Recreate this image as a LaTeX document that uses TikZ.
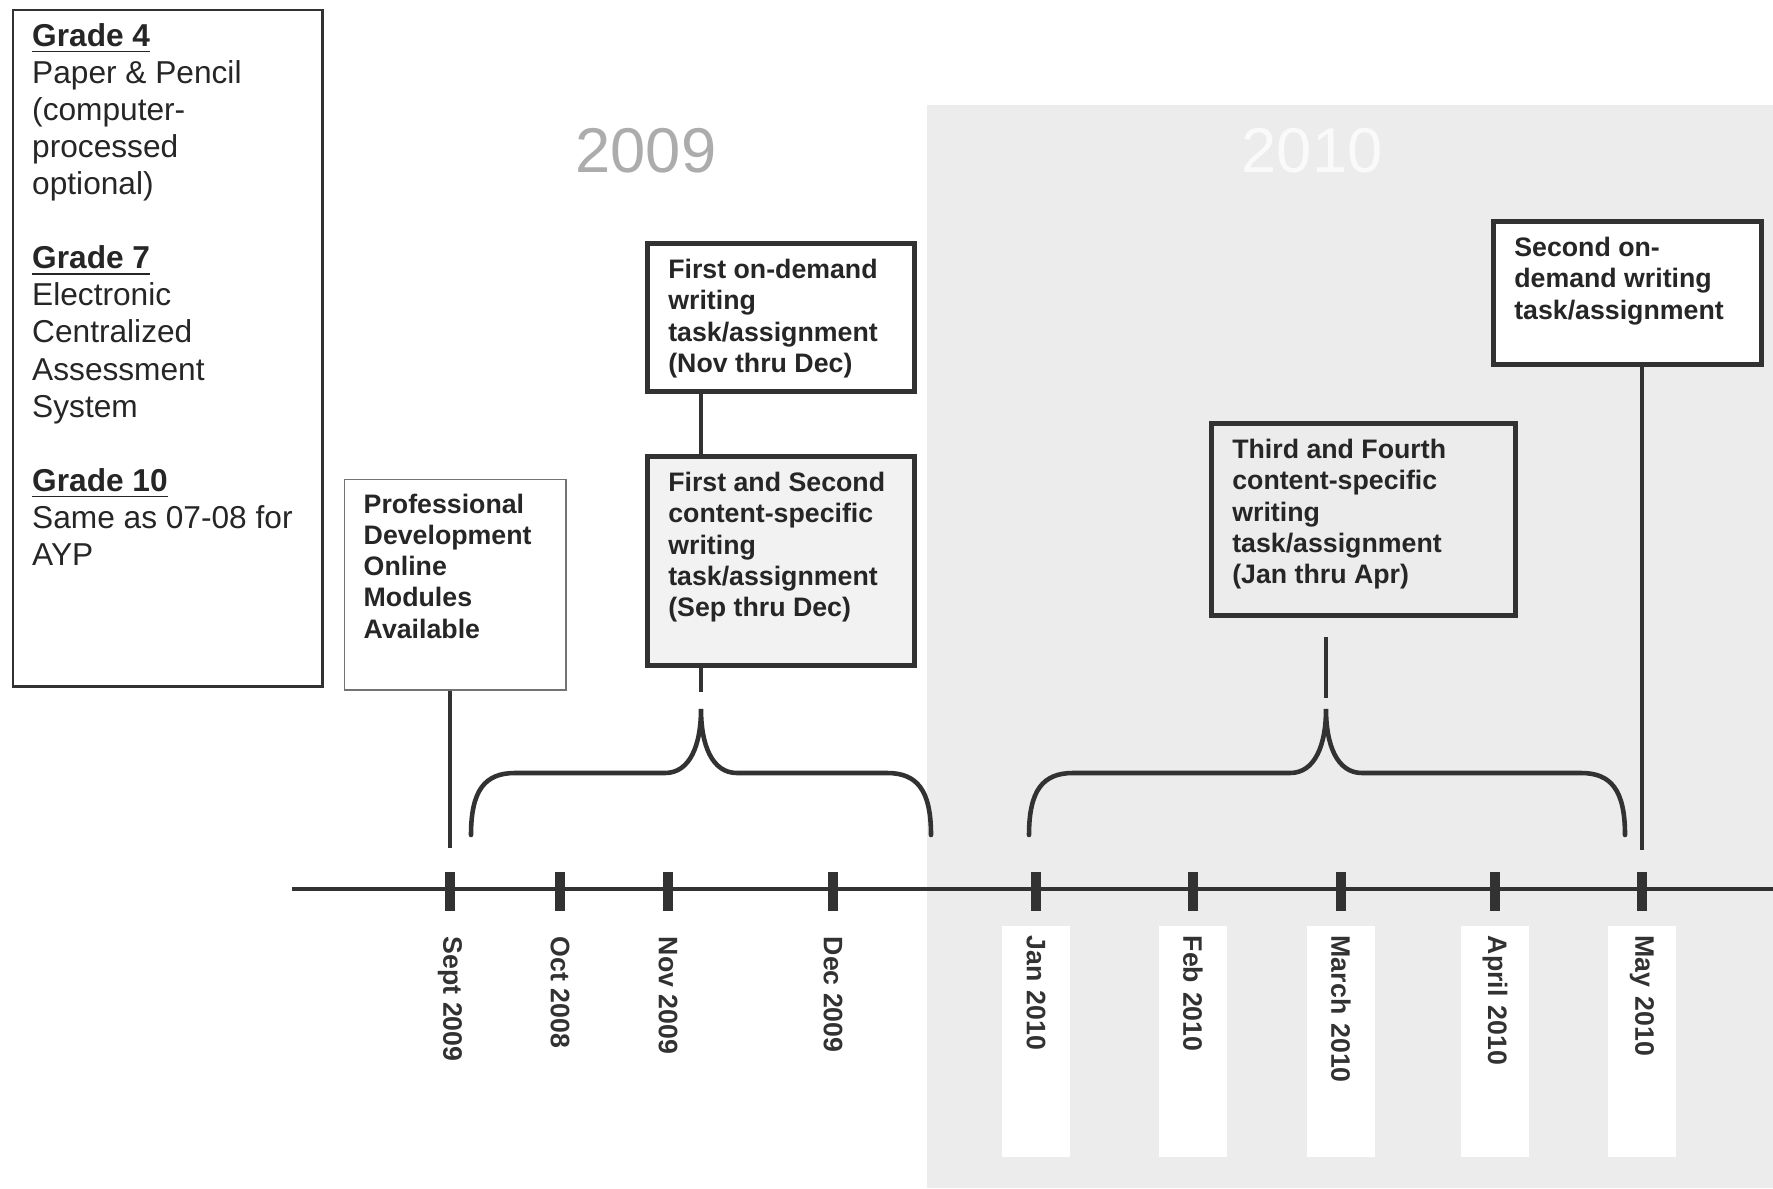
\documentclass[tikz,border=0pt]{standalone}
\usepackage{fontspec}
\setmainfont{Liberation Sans}
\usetikzlibrary{positioning}
\definecolor{inkgrey}{RGB}{50,50,50}
\definecolor{scangrey}{RGB}{236,236,236}
\definecolor{boxgrey}{RGB}{242,242,242}
\definecolor{yeargrey}{RGB}{172,172,172}
\definecolor{ghostwhite}{RGB}{250,250,250}
\newcommand{\boxtext}[3]{\parbox[c][#2][t]{#1}{\raggedright #3}}

\begin{document}
\begin{tikzpicture}[x=0.01cm,y=-0.01cm,
  taskbox/.style={draw=inkgrey,line width=1.3pt,fill=white,anchor=north west,
    inner xsep=0.21cm,inner ysep=0.16cm,text=black!85,
    font=\fontsize{7.6}{8.9}\selectfont\bfseries},
  pdbox/.style={taskbox,draw=black!55,line width=0.4pt,inner xsep=0.19cm,inner ysep=0.14cm},
  gradebox/.style={draw=inkgrey,line width=0.7pt,fill=white,anchor=north west,
    inner xsep=0.19cm,inner ysep=0.13cm,text=black!85,
    font=\fontsize{9}{10.55}\selectfont},
  link/.style={draw=inkgrey,line width=1pt},
  bracket/.style={draw=inkgrey,line width=1.3pt,line cap=round},
  timeline/.style={draw=inkgrey,line width=1pt},
  monthtick/.style={draw=inkgrey,line width=2.6pt},
  monthlabel/.style={rotate=-90,anchor=west,inner sep=0pt,text=inkgrey,
    font=\fontsize{7.6}{9}\selectfont\bfseries},
  newmonthlabel/.style={monthlabel,fill=white,anchor=west,inner xsep=0.1cm,
    text width=2.11cm,align=left,minimum height=0.68cm},
  yearlabel/.style={font=\fontsize{18}{20}\selectfont,inner sep=0pt}]

  \useasboundingbox (0,0) rectangle (1773,1188);
  \fill[white] (0,0) rectangle (1773,1188);
  % scanned 2010 half
  \fill[scangrey] (927,105) rectangle (1773,1188);

  \node[yearlabel,text=yeargrey] (y2009) at (646,151) {2009};
  \node[yearlabel,text=ghostwhite] (y2010) at (1312,151) {2010};

  % time axis
  \coordinate (tl-start) at (292,889);
  \coordinate (tl-end) at (1773,889);
  \draw[timeline] (tl-start) -- (tl-end);

  \foreach \x/\m/\lab in {450/sep/Sept 2009,560/oct/Oct 2008,668/nov/Nov 2009,833/dec/Dec 2009}
  {
    \coordinate (\m) at (\x,889);
    \draw[monthtick] (\x,872) -- (\x,911);
    \node[monthlabel] (\m-lab) at (\x,936) {\lab};
  }
  \foreach \x/\m/\lab in {1036/jan/Jan 2010,1193/feb/Feb 2010,1341/mar/March 2010,1495/apr/April 2010,1642/may/May 2010}
  {
    \coordinate (\m) at (\x,889);
    \draw[monthtick] (\x,872) -- (\x,911);
    \node[newmonthlabel] (\m-lab) at (\x,925) {\lab};
  }

  % boxes
  \node[gradebox] (grades) at (12,9) {\boxtext{2.71cm}{6.5cm}{%
    {\bfseries\underline{Grade 4}}\\
    Paper \& Pencil\\
    (computer-\\
    processed\\
    optional)\\[10.55pt]
    {\bfseries\underline{Grade 7}}\\
    Electronic\\
    Centralized\\
    Assessment\\
    System\\[10.55pt]
    {\bfseries\underline{Grade 10}}\\
    Same as 07-08 for\\
    AYP}};

  \node[pdbox] (pd) at (344,479) {\boxtext{1.83cm}{1.82cm}{%
    Professional\\ Development\\ Online\\ Modules\\ Available}};

  \node[taskbox] (ondemand1) at (645,241) {\boxtext{2.25cm}{1.16cm}{%
    First on-demand\\ writing\\ task/assignment\\ (Nov thru Dec)}};

  \node[taskbox,fill=boxgrey] (content12) at (645,454) {\boxtext{2.25cm}{1.77cm}{%
    First and Second\\ content-specific\\ writing\\ task/assignment\\ (Sep thru Dec)}};

  \node[taskbox,fill=none] (content34) at (1209,421) {\boxtext{2.62cm}{1.60cm}{%
    Third and Fourth\\ content-specific\\ writing\\ task/assignment\\ (Jan thru Apr)}};

  \node[taskbox] (ondemand2) at (1491,219) {\boxtext{2.26cm}{1.11cm}{%
    Second on-\\ demand writing\\ task/assignment}};

  % connectors
  \coordinate (tip1) at (701,709);
  \coordinate (stub1) at (701,692);
  \coordinate (tip2) at (1326,709);
  \coordinate (stub2top) at (1326,637);
  \coordinate (stub2) at (1326,698);
  \coordinate (pd-end) at (450,848);
  \coordinate (may-end) at (1642,850);

  \draw[link] (ondemand1.south -| tip1) -- (content12.north -| tip1);
  \draw[link] (content12.south -| stub1) -- (stub1);
  \draw[link] (stub2top) -- (stub2);
  \draw[link] (pd.south -| pd-end) -- (pd-end);
  \draw[link] (ondemand2.south -| may-end) -- (may-end);

  % braces
  \coordinate (b1-left) at (471,835);
  \coordinate (b1-right) at (931,835);
  \coordinate (b2-left) at (1029,835);
  \coordinate (b2-right) at (1625,835);
  \draw[bracket] (b1-left) .. controls (471,790) and (485,773) .. (515,773) -- (665,773)
    .. controls (690,773) and (701,745) .. (tip1)
    .. controls (701,745) and (712,773) .. (737,773) -- (887,773)
    .. controls (917,773) and (931,790) .. (b1-right);
  \draw[bracket] (b2-left) .. controls (1029,790) and (1043,773) .. (1073,773) -- (1290,773)
    .. controls (1315,773) and (1326,745) .. (tip2)
    .. controls (1326,745) and (1337,773) .. (1362,773) -- (1581,773)
    .. controls (1611,773) and (1625,790) .. (b2-right);

\end{tikzpicture}
\end{document}
